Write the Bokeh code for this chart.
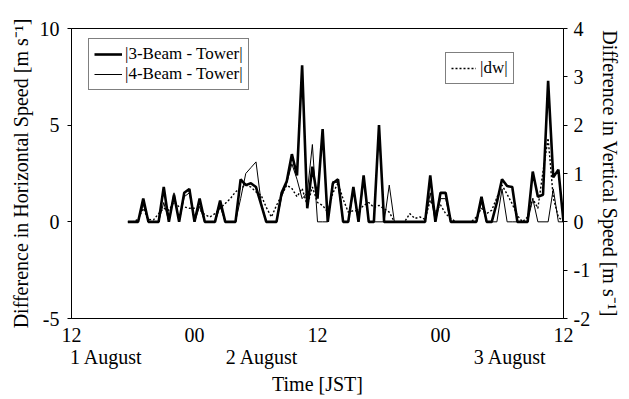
import numpy as np
from bokeh.plotting import figure
from bokeh.models import Range1d, LinearAxis, FixedTicker, Legend, LegendItem
from bokeh.embed import file_html
from bokeh.resources import INLINE

# time in hours after 12 JST, 1 August (half-hourly samples)
start_hour = 5.5
step_hour = 0.5

beam3_tower = [0, 0, 0, 1.2, 0, 0, 0, 1.8, 0, 1.4,
               0, 1.5, 1.7, 0, 1.2, 0, 0, 0, 1.1, 0,
               0, 0, 2.2, 1.9, 2.0, 1.8, 0.9, 0, 0, 0,
               1.5, 2.1, 3.5, 2.4, 8.1, 0.7, 2.85, 1.2, 4.8, 0,
               2.0, 2.2, 0, 0, 1.8, 0, 2.4, 0, 0, 5.0,
               0, 0, 0, 0, 0, 0, 0, 0, 0, 2.4,
               0, 1.5, 1.5, 0, 0, 0, 0, 0, 0, 1.3,
               0, 0, 1.0, 2.2, 1.85, 1.8, 0, 0, 0, 2.6,
               1.3, 1.4, 7.3, 2.3, 2.7, 0]

beam4_tower = [0, 0, 0, 0.9, 0, 0, 0, 1.0, 0, 1.5,
               0, 1.3, 1.5, 0, 0.8, 0, 0, 0, 0.8, 0,
               0, 0, 1.2, 2.5, 2.8, 3.1, 1.0, 0, 0, 0,
               1.3, 2.0, 3.0, 2.2, 1.2, 1.5, 4.0, 0, 0, 0,
               2.1, 2.0, 0, 0, 1.6, 0, 2.2, 0, 0, 0,
               0, 1.9, 0, 0, 0, 0, 0, 0, 0, 1.5,
               0, 1.2, 1.2, 0, 0, 0, 0, 0, 0, 1.0,
               0, 0, 0, 1.7, 0, 0, 0, 0, 0, 1.2,
               0, 0, 0, 1.7, 0, 0]

abs_dw = [0, 0, 0.05, 0.28, 0.05, 0.04, 0.17, 0.28, 0.24, 0.41,
          0.31, 0.31, 0.28, 0.28, 0.25, 0.15, 0.1, 0.17, 0.28, 0.38,
          0.48, 0.62, 0.69, 0.76, 0.72, 0.62, 0.55, 0.3, 0.1, 0.34,
          0.55, 0.76, 0.69, 0.52, 0.69, 0.34, 0.72, 0.4, 0.34, 0.2,
          0.6, 0.8, 0.47, 0.2, 0.23, 0.23, 0.34, 0.4, 0.3, 0.34,
          0.27, 0.2, 0, 0, 0, 0.17, 0.07, 0.1, 0.05, 0.45,
          0.2, 0.35, 0.17, 0.07, 0, 0, 0, 0, 0.1, 0.28,
          0.17, 0.24, 0.5, 0.76, 0.57, 0.37, 0.13, 0, 0.1, 0.48,
          0.28, 1.04, 1.73, 0.5, 0.1, 0]

time_hours = start_hour + step_hour * np.arange(len(beam3_tower))

x_ticks = [0, 12, 24, 36, 48]
x_tick_labels = ["12", "00", "12", "00", "12"]
date_labels = ["1 August", "2 August", "3 August"]
date_label_hours = [3.4, 18.6, 42.8]

left_ticks = [-5, 0, 5, 10]
right_ticks = [-2, -1, 0, 1, 2, 3, 4]

FONT = "Liberation Serif"
FS = "20px"

p = figure(width=629, height=399, output_backend="svg", toolbar_location=None,
           x_range=Range1d(0, 48), y_range=Range1d(-5, 10),
           min_border_left=71, min_border_right=66, min_border_top=28,
           min_border_bottom=81)
p.extra_y_ranges = {"right": Range1d(-2, 4)}
p.xgrid.visible = False
p.ygrid.visible = False
p.outline_line_color = "black"
p.outline_line_width = 1
p.background_fill_color = "white"
p.border_fill_color = "white"


def style_axis(ax, tick_out, standoff):
    ax.major_tick_out = tick_out
    ax.major_tick_in = 0
    ax.minor_tick_out = 0
    ax.minor_tick_in = 0
    ax.major_label_standoff = standoff
    ax.major_label_text_font = FONT
    ax.major_label_text_font_size = FS
    ax.major_label_text_color = "black"
    ax.axis_line_color = "black"
    ax.axis_label_text_font = FONT
    ax.axis_label_text_font_size = FS
    ax.axis_label_text_font_style = "normal"
    ax.axis_label_text_color = "black"


# bottom axis: hours
xa = p.xaxis[0]
xa.ticker = FixedTicker(ticks=x_ticks)
xa.major_label_overrides = {t: l for t, l in zip(x_ticks, x_tick_labels)}
style_axis(xa, 0, 9)

# second bottom axis: dates and title
da = LinearAxis(ticker=FixedTicker(ticks=date_label_hours))
da.major_label_overrides = {t: l for t, l in zip(date_label_hours, date_labels)}
style_axis(da, 0, 1)
da.axis_line_color = None
da.axis_label = "Time [JST]"
da.axis_label_standoff = 2
p.add_layout(da, "below")

# left axis
ya = p.yaxis[0]
ya.ticker = FixedTicker(ticks=left_ticks)
ya.major_label_overrides = {t: str(t) for t in left_ticks}
style_axis(ya, 4, 8)
ya.axis_label = "Difference in Horizontal Speed [m s\u207b\u00b9]"
ya.axis_label_standoff = 5

# right axis
ra = LinearAxis(y_range_name="right", ticker=FixedTicker(ticks=right_ticks))
ra.major_label_overrides = {t: str(t) for t in right_ticks}
style_axis(ra, 4, 6)
ra.axis_label = "Difference in Vertical Speed [m s\u207b\u00b9]"
ra.axis_label_standoff = 6
p.add_layout(ra, "right")

r3 = p.line(time_hours, beam3_tower, line_color="black", line_width=2.6)
r4 = p.line(time_hours, beam4_tower, line_color="black", line_width=1)
rdw = p.line(time_hours, abs_dw, line_color="black", line_width=1.4,
             line_dash="2 2", y_range_name="right")

leg1 = Legend(items=[LegendItem(label="|3-Beam - Tower|", renderers=[r3]),
                     LegendItem(label="|4-Beam - Tower|", renderers=[r4])],
              location=(17, 228), orientation="vertical",
              label_text_font=FONT, label_text_font_size="17px",
              label_text_color="black", label_height=18, glyph_height=18,
              glyph_width=28, label_standoff=3, spacing=0, padding=5,
              margin=0, border_line_color="black", border_line_width=1,
              background_fill_color="white", background_fill_alpha=1)
leg2 = Legend(items=[LegendItem(label="|dw|", renderers=[rdw])],
              location=(374, 234), orientation="vertical",
              label_text_font=FONT, label_text_font_size="17px",
              label_text_color="black", label_height=18, glyph_height=18,
              glyph_width=25, label_standoff=4, spacing=0, padding=5,
              margin=0, border_line_color="black", border_line_width=1,
              background_fill_color="white", background_fill_alpha=1)
p.add_layout(leg1)
p.add_layout(leg2)

open("out.html", "w").write(file_html(p, INLINE))
